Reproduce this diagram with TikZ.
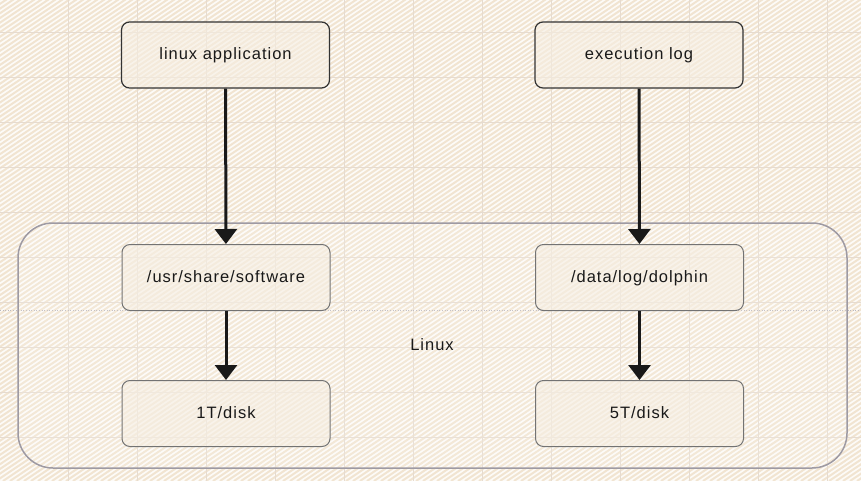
\documentclass[tikz,border=0pt]{standalone}
\usepackage{fontspec}
\setmainfont{Liberation Sans}[LetterSpace=6]
\usepackage{tikz}
\usetikzlibrary{arrows.meta}
\definecolor{paper}{HTML}{FDFBF8}
\definecolor{hatchc}{HTML}{F1E4D1}
\definecolor{gridc}{HTML}{E6DBCF}
\definecolor{boxfill}{HTML}{F6EEE2}
\definecolor{frame}{HTML}{9E9AA3}
\tikzstyle{box} = [draw,rounded corners=8pt,minimum width=208pt,inner sep=0pt,fill=boxfill,fill opacity=0.6,text opacity=1,text=black!90,text height=12pt,text depth=3pt,font=\fontsize{16.5}{20}\selectfont]
\tikzstyle{top} = [box,draw=black!80,line width=1.2pt,minimum height=66pt]
\tikzstyle{low} = [box,draw=black!55,line width=1pt,minimum height=66pt]
\tikzstyle{flow} = [-{Triangle[width=22pt,length=15pt]},line width=3pt,black!90]

\begin{document}
\begin{tikzpicture}[x=1pt,y=-1pt]
    \useasboundingbox (0,0) rectangle (861,481);
    % paper
    \fill[paper] (0,0) rectangle (861,481);
    \begin{scope}
    \clip (0,0) rectangle (861,481);
    \foreach \i in {-760,-753,...,861}
        \draw[hatchc,line width=2pt] (\i,481) -- ++(760,-510);
    \foreach \x in {68,137,...,861}
        \draw[gridc,line width=0.8pt] (\x,0) -- (\x,481);
    \foreach \y in {32,77,...,481}
        \draw[gridc,line width=0.8pt] (0,\y) -- (861,\y);
    \draw[frame!70,line width=0.6pt,dotted] (0,310) -- (861,310);
    \end{scope}

    % container
    \draw[frame,line width=1.5pt,rounded corners=35pt,fill=white,fill opacity=0.15] (18,223) rectangle (847,468);
    \node[inner sep=2,text=black!90,font=\fontsize{16.5}{20}\selectfont] (linux) at (432,345) {Linux};

    \node[top] (app) at (225.5,55) {linux application};
    \node[top] (log) at (639,55) {execution log};
    \node[low] (usr) at (226,277.5) {/usr/share/software};
    \node[low] (data) at (639.5,277.5) {/data/log/dolphin};
    \node[low] (disk1) at (226,413.5) {1T/disk};
    \node[low] (disk5) at (639.5,413.5) {5T/disk};

    \draw[flow] (app) -- (usr);
    \draw[flow] (log) -- (data);
    \draw[flow] (usr) -- (disk1);
    \draw[flow] (data) -- (disk5);

\end{tikzpicture}
\end{document}
